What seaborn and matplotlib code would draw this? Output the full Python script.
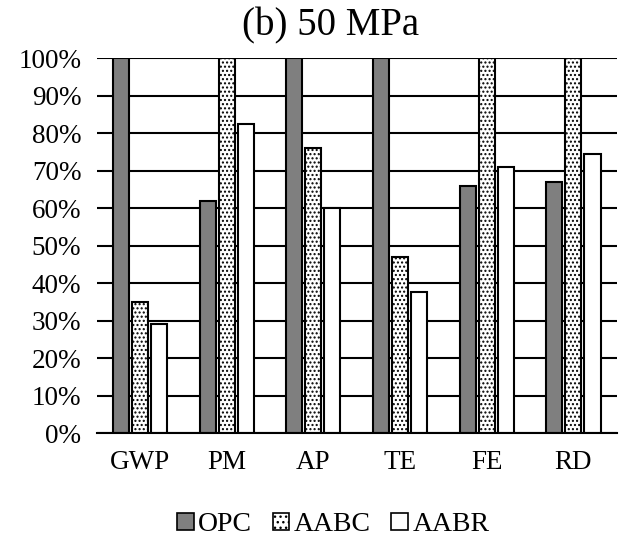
import numpy as np
import pandas as pd
import seaborn as sns
import matplotlib.pyplot as plt
from matplotlib.patches import Patch
from matplotlib.ticker import PercentFormatter

categories = ['GWP', 'PM', 'AP', 'TE', 'FE', 'RD']
opc = [100, 62, 100, 100, 66, 67]
aabc = [35, 100, 76, 47, 100, 100]
aabr = [29, 82.5, 60, 37.5, 71, 74.5]
mixes = ['OPC', 'AABC', 'AABR']

df = pd.DataFrame({
    'category': categories * 3,
    'mix': [m for m in mixes for _ in categories],
    'value': opc + aabc + aabr,
})

sns.set_style('white')
plt.rcParams['font.family'] = ['Liberation Serif', 'DejaVu Serif']
plt.rcParams['hatch.linewidth'] = 1.0
plt.rcParams['text.color'] = 'black'

fig, ax = plt.subplots(figsize=(6.23, 5.38), dpi=100)
fig.subplots_adjust(left=0.155, right=0.99, top=0.892, bottom=0.195)

ax.set_axisbelow(True)
ax.yaxis.grid(True, color='black', linewidth=1.5)

sns.barplot(
    data=df, x='category', y='value', hue='mix',
    order=categories, hue_order=mixes,
    width=0.66, gap=0.16,
    palette=['#7f7f7f', 'white', 'white'],
    edgecolor='black', linewidth=1.5,
    legend=False, ax=ax,
)

# dotted fill for AABC
hatches = ['', '....', '']
for cont, h in zip(ax.containers, hatches):
    for bar in cont:
        bar.set_hatch(h)

ax.set_ylim(0, 100)
ax.set_yticks(np.arange(0, 101, 10))
ax.yaxis.set_major_formatter(PercentFormatter(decimals=0))
ax.set_xlabel('')
ax.set_ylabel('')
ax.tick_params(axis='both', labelsize=19.5, length=0, colors='black')
ax.tick_params(axis='x', pad=12)
ax.tick_params(axis='y', pad=11)
for s in ['left', 'right', 'top']:
    ax.spines[s].set_visible(False)
ax.spines['bottom'].set_color('black')
ax.spines['bottom'].set_linewidth(1.5)
ax.set_title('(b) 50 MPa', fontsize=28, pad=16, color='black', x=0.45)

handles = [
    Patch(facecolor='#7f7f7f', edgecolor='black', linewidth=1.2),
    Patch(facecolor='white', edgecolor='black', hatch='...', linewidth=1.2),
    Patch(facecolor='white', edgecolor='black', linewidth=1.2),
]
fig.legend(handles, mixes, loc='lower center', bbox_to_anchor=(0.535, -0.045),
           ncol=3, frameon=False, fontsize=20, handlelength=0.6,
           handleheight=0.6, handletextpad=0.15, columnspacing=0.75)

fig.savefig('out.png', dpi=100)
